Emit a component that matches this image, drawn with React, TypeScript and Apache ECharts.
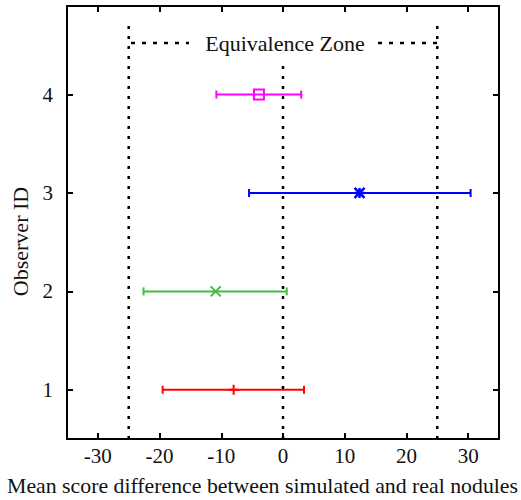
import React, { useEffect, useRef } from "react";
import * as echarts from "echarts";

const observers = [1, 2, 3, 4];
const lowerBounds = [-19.5, -22.6, -5.5, -10.8];
const meanDiffs = [-8.0, -10.9, 12.4, -3.9];
const upperBounds = [3.4, 0.6, 30.4, 2.95];
const seriesColors = ["#ff0000", "#44bb44", "#0000ff", "#ff00ff"];
const markerShapes = ["plus", "cross", "star", "square"];
const xTicks = [-30, -20, -10, 0, 10, 20, 30];
const yTicks = [1, 2, 3, 4];
const equivalenceBounds = [-25, 25];
const zeroLine = 0;

const FONT = "'Liberation Serif', 'DejaVu Serif', serif";

export default function App() {
  const ref = useRef<HTMLDivElement>(null);
  useEffect(() => {
    if (!ref.current) return;
    const chart = echarts.init(ref.current, null, { renderer: "svg" });
    const rows = observers.map((o, i) => [o, lowerBounds[i], meanDiffs[i], upperBounds[i]]);
    const axisLine = { show: true, onZero: false, lineStyle: { color: "#000", width: 2 } };
    const option: any = {
      animation: false,
      backgroundColor: "#fff",
      grid: { left: 67, right: 22, top: 6, bottom: 61, containLabel: false, outerBoundsMode: "none" },
      xAxis: [
        {
          type: "value",
          min: -35,
          max: 35,
          axisLine,
          axisTick: { show: true, inside: true, length: 6, customValues: xTicks, lineStyle: { color: "#000", width: 2 } },
          axisLabel: { customValues: xTicks, margin: 6, fontSize: 21, fontFamily: FONT, color: "#111" },
          splitLine: { show: false },
          name: "Mean score difference between simulated and real nodules",
          nameLocation: "middle",
          nameGap: 36,
          nameTextStyle: { fontSize: 21.8, fontFamily: FONT, color: "#111", padding: [0, 41, 0, 0] },
        },
        {
          type: "value",
          position: "top",
          min: -35,
          max: 35,
          axisLine,
          axisTick: { show: true, inside: true, length: 6, customValues: xTicks, lineStyle: { color: "#000", width: 2 } },
          axisLabel: { show: false },
          splitLine: { show: false },
        },
      ],
      yAxis: [
        {
          type: "value",
          min: 0.5,
          max: 4.9,
          axisLine,
          axisTick: { show: true, inside: true, length: 6, customValues: yTicks, lineStyle: { color: "#000", width: 2 } },
          axisLabel: { customValues: yTicks, margin: 14, fontSize: 21, fontFamily: FONT, color: "#111" },
          splitLine: { show: false },
          name: "Observer ID",
          nameLocation: "middle",
          nameGap: 35,
          nameRotate: 90,
          nameTextStyle: { fontSize: 22, fontFamily: FONT, color: "#111", padding: [0, 38, 0, 0] },
        },
        {
          type: "value",
          position: "right",
          min: 0.5,
          max: 4.9,
          axisLine,
          axisTick: { show: true, inside: true, length: 6, customValues: yTicks, lineStyle: { color: "#000", width: 2 } },
          axisLabel: { show: false },
          splitLine: { show: false },
        },
      ],
      graphic: [
        {
          type: "text",
          x: 285,
          y: 43,
          style: {
            text: "Equivalence Zone",
            fontSize: 22,
            fontFamily: FONT,
            fill: "#111",
            textAlign: "center",
            textVerticalAlign: "middle",
          },
        },
        {
          type: "line",
          shape: { x1: 131, y1: 43, x2: 189, y2: 43 },
          style: { stroke: "#000", lineWidth: 2.5, lineDash: [4, 7] },
        },
        {
          type: "line",
          shape: { x1: 378, y1: 43, x2: 437, y2: 43 },
          style: { stroke: "#000", lineWidth: 2.5, lineDash: [4, 7] },
        },
      ],
      series: [
        ...equivalenceBounds.map((b) => ({
          type: "line",
          xAxisIndex: 0,
          yAxisIndex: 0,
          data: [[b, 0.5], [b, 4.7]],
          symbol: "none",
          lineStyle: { color: "#000", width: 2.5, type: [3, 7] },
          silent: true,
        })),
        {
          type: "line",
          xAxisIndex: 0,
          yAxisIndex: 0,
          data: [[zeroLine, 0.5], [zeroLine, 4.3]],
          symbol: "none",
          lineStyle: { color: "#000", width: 2.5, type: [3, 7] },
          silent: true,
        },
        {
          type: "custom",
          xAxisIndex: 0,
          yAxisIndex: 0,
          encode: { x: [1, 2, 3], y: 0 },
          data: rows,
          renderItem: (params: any, api: any) => {
            const i = params.dataIndex;
            const y = api.value(0);
            const pLo = api.coord([api.value(1), y]);
            const pM = api.coord([api.value(2), y]);
            const pHi = api.coord([api.value(3), y]);
            const color = seriesColors[i];
            const st = { stroke: color, lineWidth: 2, fill: "none" };
            const cap = 4;
            const children: any[] = [
              { type: "line", shape: { x1: pLo[0], y1: pLo[1], x2: pHi[0], y2: pHi[1] }, style: st },
              { type: "line", shape: { x1: pLo[0], y1: pLo[1] - cap, x2: pLo[0], y2: pLo[1] + cap }, style: st },
              { type: "line", shape: { x1: pHi[0], y1: pHi[1] - cap, x2: pHi[0], y2: pHi[1] + cap }, style: st },
            ];
            const [mx, my] = pM;
            const s = 5;
            const shape = markerShapes[i];
            const mst = shape === "star" ? { ...st, lineWidth: 2.5 } : st;
            if (shape === "plus" || shape === "star") {
              children.push({ type: "line", shape: { x1: mx, y1: my - s, x2: mx, y2: my + s }, style: mst });
              children.push({ type: "line", shape: { x1: mx - s, y1: my, x2: mx + s, y2: my }, style: mst });
            }
            if (shape === "cross" || shape === "star") {
              children.push({ type: "line", shape: { x1: mx - s, y1: my - s, x2: mx + s, y2: my + s }, style: mst });
              children.push({ type: "line", shape: { x1: mx - s, y1: my + s, x2: mx + s, y2: my - s }, style: mst });
            }
            if (shape === "square") {
              children.push({
                type: "rect",
                shape: { x: mx - s, y: my - s, width: 2 * s, height: 2 * s },
                style: { stroke: color, lineWidth: 2, fill: "none" },
              });
            }
            return { type: "group", children };
          },
        },
      ],
    };
    chart.setOption(option);
    return () => chart.dispose();
  }, []);
  return (
    <div
      ref={ref}
      style={{ position: "fixed", left: 0, top: 0, width: 521, height: 500, background: "#fff" }}
    />
  );
}
